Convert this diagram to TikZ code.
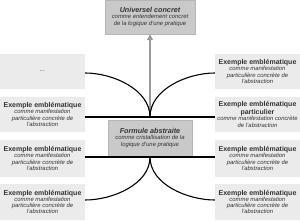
\documentclass[tikz,border=0pt]{standalone}
\usepackage{fontspec}
\setmainfont{Liberation Sans}
\usetikzlibrary{arrows.meta}
\definecolor{exfill}{HTML}{EBEBEB}
\definecolor{abfill}{HTML}{C9C9C9}
\definecolor{abdraw}{HTML}{B5B5B5}
\definecolor{txt}{HTML}{333333}
\definecolor{arr}{HTML}{9A9A9A}
\newcommand\ttl[1]{{\fontsize{7}{8}\selectfont\bfseries #1}}
\newcommand\sml[1]{{\fontsize{5.9}{6.3}\selectfont\itshape #1}}
\newcommand\tti[1]{{\fontsize{7.2}{8}\selectfont\bfseries\itshape #1}}
\begin{document}
\begin{tikzpicture}[x=1pt,y=1pt,
  exbox/.style={fill=exfill, draw=none, minimum width=85pt, inner sep=0.5pt, align=center, text=txt, font=\fontsize{5.9}{6.3}\selectfont},
  abbox/.style={fill=abfill, draw=abdraw, line width=0.4pt, inner sep=0.5pt, align=center, text=txt, font=\fontsize{5.9}{6.6}\selectfont},
  conn/.style={draw=black, line width=1.1pt},
  up/.style={draw=arr, line width=1.8pt, -{Triangle[length=6pt,width=6pt]}}]
\useasboundingbox (0,0) rectangle (300,220);
% top and formula boxes
\node[abbox, minimum width=90pt, minimum height=34pt] (U) at (150,203)
  {\tti{Universel concret}\\ \sml{comme entendement concret}\\ \sml{de la logique d'une pratique}};
\node[abbox, minimum width=84pt, minimum height=36pt] (F) at (150,82)
  {\tti{Formule abstraite}\\ \sml{comme cristallisation de la}\\ \sml{logique d'une pratique}};
% left boxes
\node[exbox, minimum height=35pt] (L1) at (42.5,148.5) {\sml{...}};
\node[exbox, minimum height=35pt] (L2) at (42.5,105.5)
  {\ttl{Exemple emblématique}\\ \sml{comme manifestation}\\ \sml{particulière concrète de}\\ \sml{l'abstraction}};
\node[exbox, minimum height=37pt] (L3) at (42.5,61.5)
  {\ttl{Exemple emblématique}\\ \sml{comme manifestation}\\ \sml{particulière concrète de}\\ \sml{l'abstraction}};
\node[exbox, minimum height=36pt] (L4) at (42.5,18)
  {\ttl{Exemple emblématique}\\ \sml{comme manifestation}\\ \sml{particulière concrète de}\\ \sml{l'abstraction}};
% right boxes
\node[exbox, minimum height=35pt] (R1) at (257.5,148.5)
  {\ttl{Exemple emblématique}\\ \sml{comme manifestation}\\ \sml{particulière concrète de}\\ \sml{l'abstraction}};
\node[exbox, minimum height=35pt] (R2) at (257.5,105.5)
  {\ttl{Exemple emblématique}\\ \ttl{particulier}\\ \sml{comme manifestation concrète}\\ \sml{de l'abstraction}};
\node[exbox, minimum height=37pt] (R3) at (257.5,61.5)
  {\ttl{Exemple emblématique}\\ \sml{comme manifestation}\\ \sml{particulière concrète de}\\ \sml{l'abstraction}};
\node[exbox, minimum height=36pt] (R4) at (257.5,18)
  {\ttl{Exemple emblématique}\\ \sml{comme manifestation}\\ \sml{particulière concrète de}\\ \sml{l'abstraction}};
% junctions
\coordinate (jt) at (150,103);
\coordinate (jb) at (150,63);
\coordinate (k1) at (0,147);
\coordinate (k4) at (0,20);
% connectors
\draw[up] (jt) -- (U.south);
\draw[conn] (L2.east |- jt) -- (R2.west |- jt);
\draw[conn] (L3.east |- jb) -- (R3.west |- jb);
\draw[conn] (L1.east |- k1) to[out=0,in=90,looseness=0.9] (jt);
\draw[conn] (R1.west |- k1) to[out=180,in=90,looseness=0.9] (jt);
\draw[conn] (jb) to[out=-90,in=0,looseness=0.9] (L4.east |- k4);
\draw[conn] (jb) to[out=-90,in=180,looseness=0.9] (R4.west |- k4);
\end{tikzpicture}
\end{document}
